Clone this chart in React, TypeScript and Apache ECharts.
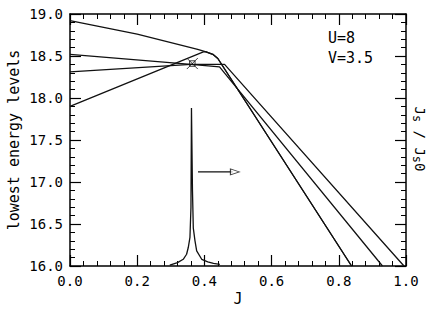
import React, { useEffect, useRef } from "react";
import * as echarts from "echarts";

const FONT = "DejaVu Sans Mono";

// four lowest energy levels (J, E)
const level1J = [0, 0.2, 0.33, 0.38, 0.405, 0.425, 0.44, 0.838];
const level1E = [18.92, 18.76, 18.63, 18.58, 18.55, 18.52, 18.47, 16.0];
const level2J = [0, 0.36, 0.445, 0.93];
const level2E = [18.52, 18.4, 18.37, 16.0];
const level3J = [0, 0.36, 0.46, 0.994];
const level3E = [18.31, 18.4, 18.4, 16.0];
const level4J = [0, 0.397, 0.405, 0.425, 0.44, 0.838];
const level4E = [17.9, 18.55, 18.55, 18.52, 18.47, 16.0];

// Js/Js0 peak
const peakJ = [0.297, 0.32, 0.337, 0.347, 0.352, 0.357, 0.36, 0.3615, 0.3628, 0.3645, 0.367, 0.372, 0.377, 0.392, 0.41, 0.427, 0.446];
const peakV = [16.01, 16.04, 16.08, 16.14, 16.22, 16.34, 16.7, 17.88, 17.88, 16.9, 16.45, 16.3, 16.18, 16.08, 16.05, 16.03, 16.02];

// crossing marker
const markJ = [0.364];
const markE = [18.41];

// arrow
const arrowJ = [0.381, 0.485];
const arrowE = [17.12, 17.12];
const arrowHeadJ = [0.491];

const xTicks = [0, 0.2, 0.4, 0.6, 0.8, 1.0];
const yTicks = [16.0, 16.5, 17.0, 17.5, 18.0, 18.5, 19.0];

const zip = (a: number[], b: number[]) => a.map((v, i) => [v, b[i]]);

export default function App() {
  const ref = useRef<HTMLDivElement>(null);
  useEffect(() => {
    if (!ref.current) return;
    const chart = echarts.init(ref.current, null, { renderer: "svg" });
    const axisLine = { show: true, onZero: false, lineStyle: { color: "#000", width: 1.5 } };
    const tick = { show: true, inside: true, length: 11, lineStyle: { color: "#000", width: 1.2 } };
    const minor = { show: true, splitNumber: 5, length: 5, lineStyle: { color: "#000", width: 1 } };
    const lbl = { color: "#000", fontFamily: FONT, fontSize: 14 };
    const lineSeries = (j: number[], e: number[]) => ({
      type: "line",
      data: zip(j, e),
      showSymbol: false,
      symbol: "none",
      lineStyle: { color: "#111", width: 1.3 },
      z: 3,
    });
    chart.setOption({
      animation: false,
      backgroundColor: "#fff",
      grid: { left: 70, right: 30, top: 14, bottom: 48, containLabel: false },
      xAxis: [
        {
          type: "value", min: xTicks[0], max: xTicks[xTicks.length - 1], interval: 0.2, position: "bottom",
          axisLine, axisTick: tick, minorTick: minor,
          axisLabel: { ...lbl, margin: 8, formatter: (v: number) => v.toFixed(1) },
          splitLine: { show: false }, minorSplitLine: { show: false },
        },
        {
          type: "value", min: xTicks[0], max: xTicks[xTicks.length - 1], interval: 0.2, position: "top",
          axisLine, axisTick: tick, minorTick: minor, axisLabel: { show: false },
          splitLine: { show: false },
        },
      ],
      yAxis: [
        {
          type: "value", min: yTicks[0], max: yTicks[yTicks.length - 1], interval: 0.5, position: "left",
          axisLine, axisTick: tick, minorTick: minor,
          axisLabel: { ...lbl, margin: 7, formatter: (v: number) => v.toFixed(1) },
          splitLine: { show: false },
        },
        {
          type: "value", min: yTicks[0], max: yTicks[yTicks.length - 1], interval: 0.5, position: "right",
          axisLine, axisTick: tick, minorTick: minor, axisLabel: { show: false },
          splitLine: { show: false },
        },
      ],
      series: [
        lineSeries(level1J, level1E),
        lineSeries(level2J, level2E),
        lineSeries(level3J, level3E),
        lineSeries(level4J, level4E),
        lineSeries(peakJ, peakV),
        { ...lineSeries(arrowJ, arrowE), lineStyle: { color: "#111", width: 1.2 } },
        {
          type: "scatter",
          data: zip(arrowHeadJ, arrowE.slice(0, 1)),
          symbol: "triangle",
          symbolSize: [6, 9],
          symbolRotate: -90,
          itemStyle: { color: "#fff", borderColor: "#111", borderWidth: 1 },
          z: 5,
        },
        {
          type: "scatter",
          data: zip(markJ, markE),
          symbol: "path://M0,0L10,10M10,0L0,10M2.5,2.5L7.5,2.5L7.5,7.5L2.5,7.5Z",
          symbolSize: 11,
          itemStyle: { color: "none", borderColor: "#111", borderWidth: 1 },
          z: 6,
        },
      ],
      graphic: [
        {
          type: "text", x: 14, y: 140, rotation: Math.PI / 2,
          style: { text: "lowest energy levels", fontFamily: FONT, fontSize: 15, fill: "#000", align: "center", verticalAlign: "middle" },
        },
        {
          type: "text", x: 238, y: 299,
          style: { text: "J", fontFamily: FONT, fontSize: 15, fill: "#000", align: "center", verticalAlign: "middle" },
        },
        {
          type: "text", x: 328, y: 38,
          style: { text: "U=8", fontFamily: FONT, fontSize: 15, fill: "#000", align: "left", verticalAlign: "middle" },
        },
        {
          type: "text", x: 328, y: 58,
          style: { text: "V=3.5", fontFamily: FONT, fontSize: 15, fill: "#000", align: "left", verticalAlign: "middle" },
        },
        {
          type: "text", x: 420, y: 139, rotation: -Math.PI / 2,
          style: {
            text: "{a|J}{b|s}{a| / J}{b|s}{a|0}",
            fontFamily: FONT, fill: "#000", align: "center", verticalAlign: "middle",
            rich: {
              a: { fontFamily: FONT, fontSize: 14, fill: "#000" },
              b: { fontFamily: FONT, fontSize: 12, fill: "#000", padding: [6, 0, 0, 0] },
            },
          },
        },
      ],
    });
    return () => chart.dispose();
  }, []);
  return (
    <div
      ref={ref}
      style={{ position: "fixed", left: 0, top: 0, width: 436, height: 314, background: "#fff" }}
    />
  );
}
